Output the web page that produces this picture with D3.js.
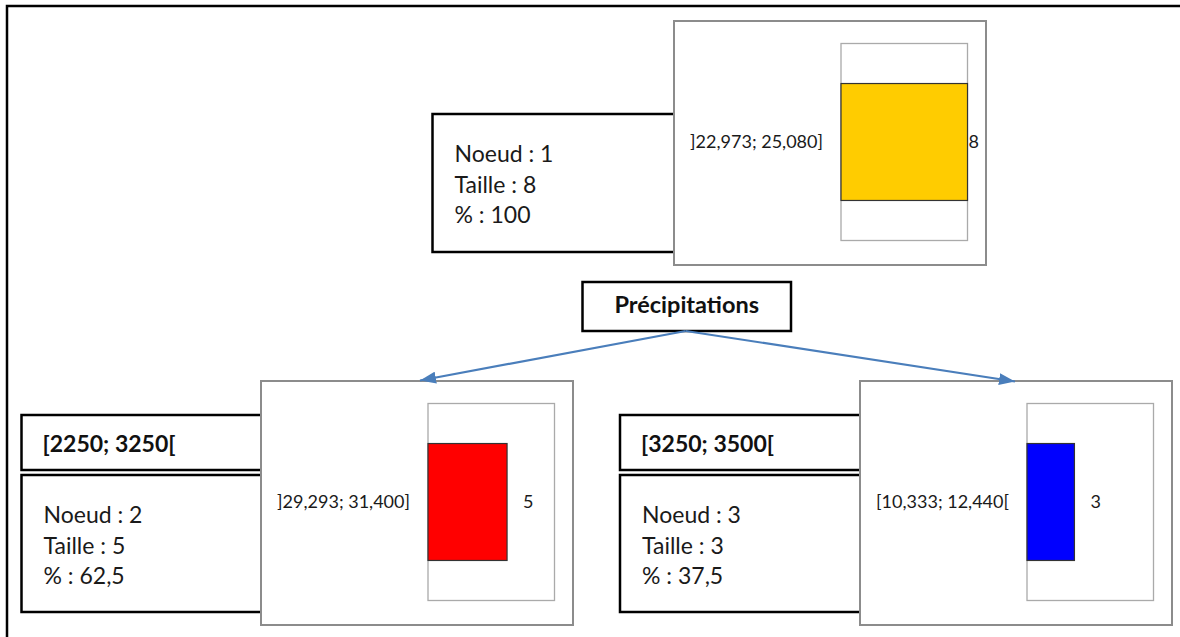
<!DOCTYPE html>
<html>
<head>
<meta charset="utf-8">
<script src="https://cdn.jsdelivr.net/npm/d3@7"></script>
<style>
  body { margin: 0; background: #fff; }
  svg { display: block; }
</style>
</head>
<body>
<div class="tree"></div>
<script>
// data of the decision tree (one entry per node)
const nodeIds = [1, 2, 3]
const nodeSizes = [8, 5, 3]
const nodePercents = ["100", "62,5", "37,5"]
const rangeLabels = ["]22,973; 25,080]", "]29,293; 31,400]", "[10,333; 12,440["]
const splitLabels = [null, "[2250; 3250[", "[3250; 3500["]
const barColors = ["#FFCC00", "#FF0000", "#0000FF"]
const splitVariable = "Précipitations"

let width = 1180
let height = 637

// where each node sits on the page
const layout = [
    {chart: [674, 21], info: [432.5, 114], infoH: 138},
    {chart: [261, 381], info: [21.5, 475], infoH: 137, label: [21.5, 415]},
    {chart: [860, 381], info: [620, 475], infoH: 137, label: [620, 415]}
]
const chartW = 312, chartH = 244
const innerX = 167, innerY = 22.5, innerW = 126.5, innerH = 197
const splitBox = {x: 582.5, y: 282, w: 208.5, h: 49}

let svg = d3.select(".tree")
    .append("svg")
    .attr("width", width)
    .attr("height", height)

svg.append("defs").append("marker")
    .attr("id", "arrow")
    .attr("viewBox", "0 0 16 12")
    .attr("refX", 16)
    .attr("refY", 6)
    .attr("markerWidth", 16)
    .attr("markerHeight", 12)
    .attr("markerUnits", "userSpaceOnUse")
    .attr("orient", "auto")
    .append("path")
    .attr("d", "M0,0 L16,6 L0,12 z")
    .attr("fill", "#4A7EBB")

// outer frame (only top and left show in the picture)
svg.append("rect")
    .attr("x", 7).attr("y", 6)
    .attr("width", 1300).attr("height", 800)
    .attr("fill", "none")
    .attr("stroke", "#000")
    .attr("stroke-width", 2.5)

// shared scale for the bar lengths
let x = d3.scaleLinear()
    .domain([0, d3.max(nodeSizes)])
    .range([0, innerW])

nodeIds.forEach(function (id, i) {
    let L = layout[i]

    // split label box ([a; b[)
    if (splitLabels[i]) {
        svg.append("rect")
            .attr("x", L.label[0]).attr("y", L.label[1])
            .attr("width", 260).attr("height", 55)
            .attr("fill", "#fff").attr("stroke", "#000").attr("stroke-width", 2.5)
        svg.append("text")
            .attr("x", L.label[0] + 21).attr("y", L.label[1] + 37)
            .text(splitLabels[i])
            .style("font-family", "Lato, 'Open Sans', sans-serif")
            .style("font-weight", "bold")
            .style("font-size", "23px")
            .attr("fill", "#111")
    }

    // info box
    svg.append("rect")
        .attr("x", L.info[0]).attr("y", L.info[1])
        .attr("width", 260).attr("height", L.infoH)
        .attr("fill", "#fff").attr("stroke", "#000").attr("stroke-width", 2.5)

    let lines = ["Noeud : " + id, "Taille : " + nodeSizes[i], "% : " + nodePercents[i]]
    svg.append("g")
        .selectAll("text")
        .data(lines)
        .enter()
        .append("text")
        .attr("x", L.info[0] + 22)
        .attr("y", function (d, k) { return L.info[1] + 48 + k * 30.5 })
        .text(function (d) { return d })
        .style("font-family", "Lato, 'Open Sans', sans-serif")
        .style("font-size", "23px")
        .attr("fill", "#1a1a1a")

    // chart box with its little bar chart
    let g = svg.append("g")
        .attr("transform", "translate(" + L.chart[0] + "," + L.chart[1] + ")")
    g.append("rect")
        .attr("width", chartW).attr("height", chartH)
        .attr("fill", "#fff").attr("stroke", "#8c8c8c").attr("stroke-width", 2)

    let plot = g.append("g")
        .attr("transform", "translate(" + innerX + "," + innerY + ")")
    plot.append("rect")
        .attr("width", innerW).attr("height", innerH)
        .attr("fill", "#fff").attr("stroke", "#aaaaaa").attr("stroke-width", 1.3)

    let y = d3.scaleBand()
        .domain([rangeLabels[i]])
        .range([0, innerH])
        .padding(0.255)

    let axis = plot.append("g")
        .call(d3.axisLeft(y).tickSize(0).tickPadding(18))
    axis.select(".domain").remove()
    axis.selectAll("text")
        .style("font-family", "Lato, 'Open Sans', sans-serif")
        .style("font-size", "18px")
        .attr("fill", "#1a1a1a")

    plot.append("rect")
        .attr("x", 0)
        .attr("y", y(rangeLabels[i]))
        .attr("width", x(nodeSizes[i]))
        .attr("height", y.bandwidth())
        .attr("fill", barColors[i])
        .attr("stroke", "#333")
        .attr("stroke-width", 1.2)

    plot.append("text")
        .attr("x", Math.min(x(nodeSizes[i]) + 16, innerW + 1))
        .attr("y", y(rangeLabels[i]) + y.bandwidth() / 2)
        .attr("dy", "0.35em")
        .text(nodeSizes[i])
        .style("font-family", "Lato, 'Open Sans', sans-serif")
        .style("font-size", "18px")
        .attr("fill", "#1a1a1a")
})

// split variable box
svg.append("rect")
    .attr("x", splitBox.x).attr("y", splitBox.y)
    .attr("width", splitBox.w).attr("height", splitBox.h)
    .attr("fill", "#fff").attr("stroke", "#000").attr("stroke-width", 2.5)
svg.append("text")
    .attr("x", splitBox.x + splitBox.w / 2)
    .attr("y", splitBox.y + 31)
    .attr("text-anchor", "middle")
    .text(splitVariable)
    .style("font-family", "Lato, 'Open Sans', sans-serif")
    .style("font-weight", "bold")
    .style("font-size", "23.5px")
    .attr("fill", "#111")

// arrows from the split box to the child nodes
let from = [splitBox.x + splitBox.w / 2 - 1, splitBox.y + splitBox.h]
let targets = [[420, 380.5], [1015, 381.5]]
svg.selectAll(".edge")
    .data(targets)
    .enter()
    .append("line")
    .attr("class", "edge")
    .attr("x1", from[0]).attr("y1", from[1])
    .attr("x2", function (d) { return d[0] })
    .attr("y2", function (d) { return d[1] })
    .attr("stroke", "#4A7EBB")
    .attr("stroke-width", 2.2)
    .attr("marker-end", "url(#arrow)")
</script>
</body>
</html>
